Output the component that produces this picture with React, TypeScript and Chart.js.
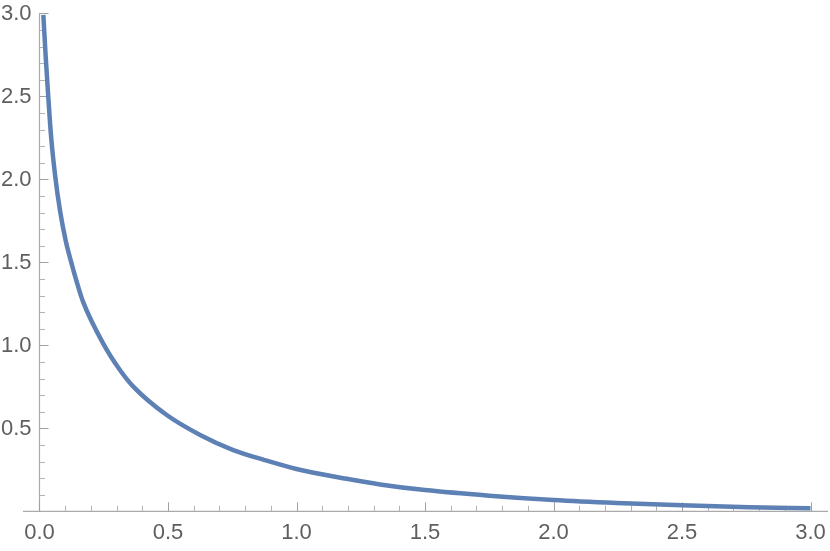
import React, { useEffect, useRef } from "react";
import { Chart, registerables } from "chart.js";

Chart.register(...registerables);

// curve samples
const xValues = [0.015, 0.024, 0.034, 0.045, 0.061, 0.08, 0.102, 0.119, 0.151, 0.17, 0.248, 0.313, 0.365, 0.495, 0.625, 0.754, 0.884, 1.0, 1.195, 1.325, 1.5, 1.75, 2.0, 2.246, 2.5, 2.76, 3.0];
const yValues = [2.99, 2.74, 2.5, 2.26, 2.02, 1.81, 1.63, 1.525, 1.35, 1.26, 1.01, 0.851, 0.751, 0.58, 0.46, 0.369, 0.305, 0.255, 0.196, 0.162, 0.128, 0.094, 0.068, 0.05, 0.036, 0.025, 0.018];

const xMajorTicks = [0, 0.5, 1.0, 1.5, 2.0, 2.5, 3.0];
const xTickLabels = ["0.0", "0.5", "1.0", "1.5", "2.0", "2.5", "3.0"];
const yMajorTicks = [0.5, 1.0, 1.5, 2.0, 2.5, 3.0];
const yTickLabels = ["0.5", "1.0", "1.5", "2.0", "2.5", "3.0"];
const xMinorTicks = [0.1, 0.2, 0.3, 0.4, 0.6, 0.7, 0.8, 0.9, 1.1, 1.2, 1.3, 1.4, 1.6, 1.7, 1.8, 1.9, 2.1, 2.2, 2.3, 2.4, 2.6, 2.7, 2.8, 2.9];
const yMinorTicks = [0.1, 0.2, 0.3, 0.4, 0.6, 0.7, 0.8, 0.9, 1.1, 1.2, 1.3, 1.4, 1.6, 1.7, 1.8, 1.9, 2.1, 2.2, 2.3, 2.4, 2.6, 2.7, 2.8, 2.9];

const axesPlugin = {
  id: "mmaAxes",
  beforeDatasetsDraw(chart: any) {
    const { ctx, chartArea, scales } = chart;
    const xs = scales.x;
    const ys = scales.y;
    const x0 = xs.getPixelForValue(0);
    const y0 = ys.getPixelForValue(0);
    ctx.save();
    ctx.lineWidth = 1.2;
    ctx.strokeStyle = "#aaaaaa";
    ctx.beginPath();
    ctx.moveTo(chartArea.left, y0);
    ctx.lineTo(chartArea.right, y0);
    ctx.moveTo(x0, ys.getPixelForValue(3.0));
    ctx.lineTo(x0, y0);
    ctx.stroke();

    // minor ticks
    ctx.strokeStyle = "#b4b4b4";
    ctx.lineWidth = 1;
    ctx.beginPath();
    xMinorTicks.forEach((v) => {
      const p = Math.round(xs.getPixelForValue(v)) + 0.5;
      ctx.moveTo(p, y0);
      ctx.lineTo(p, y0 - 5.5);
    });
    yMinorTicks.forEach((v) => {
      const p = Math.round(ys.getPixelForValue(v)) + 0.5;
      ctx.moveTo(x0, p);
      ctx.lineTo(x0 + 5.5, p);
    });
    ctx.stroke();

    // major ticks
    ctx.strokeStyle = "#a0a0a0";
    ctx.beginPath();
    xMajorTicks.forEach((v) => {
      const p = Math.round(xs.getPixelForValue(v)) + 0.5;
      ctx.moveTo(p, y0);
      ctx.lineTo(p, y0 - 9);
    });
    yMajorTicks.forEach((v) => {
      const p = Math.round(ys.getPixelForValue(v)) + 0.5;
      ctx.moveTo(x0, p);
      ctx.lineTo(x0 + 9, p);
    });
    ctx.stroke();

    // labels
    ctx.fillStyle = "#5f5f5f";
    ctx.font = "22px 'Liberation Sans', Arial, sans-serif";
    ctx.textAlign = "center";
    ctx.textBaseline = "alphabetic";
    xMajorTicks.forEach((v, i) => {
      ctx.fillText(xTickLabels[i], xs.getPixelForValue(v), y0 + 28);
    });
    ctx.textAlign = "right";
    yMajorTicks.forEach((v, i) => {
      ctx.fillText(yTickLabels[i], x0 - 8, ys.getPixelForValue(v) + 6.5);
    });
    ctx.restore();
  },
};

export default function App() {
  const ref = useRef<HTMLCanvasElement | null>(null);
  useEffect(() => {
    document.body.style.margin = "0";
    const canvas = ref.current;
    if (!canvas) return;
    const chart = new Chart(canvas, {
      type: "scatter",
      data: {
        datasets: [
          {
            data: xValues.map((x, i) => ({ x, y: yValues[i] })),
            showLine: true,
            borderColor: "rgb(94,129,181)",
            borderWidth: 4.5,
            borderCapStyle: "butt",
            pointRadius: 0,
            cubicInterpolationMode: "monotone",
          } as any,
        ],
      },
      options: {
        animation: false,
        responsive: false,
        maintainAspectRatio: false,
        layout: { padding: { left: 23, right: 2, top: 13.3, bottom: 39.7 } },
        plugins: { legend: { display: false }, tooltip: { enabled: false } },
        scales: {
          x: { type: "linear", display: false, min: -0.0642, max: 3.068 },
          y: { type: "linear", display: false, min: 0, max: 3.0 },
        },
      },
      plugins: [axesPlugin],
    });
    return () => chart.destroy();
  }, []);
  return (
    <div style={{ width: 830, height: 551 }}>
      <canvas ref={ref} width={830} height={551} style={{ display: "block" }} />
    </div>
  );
}
